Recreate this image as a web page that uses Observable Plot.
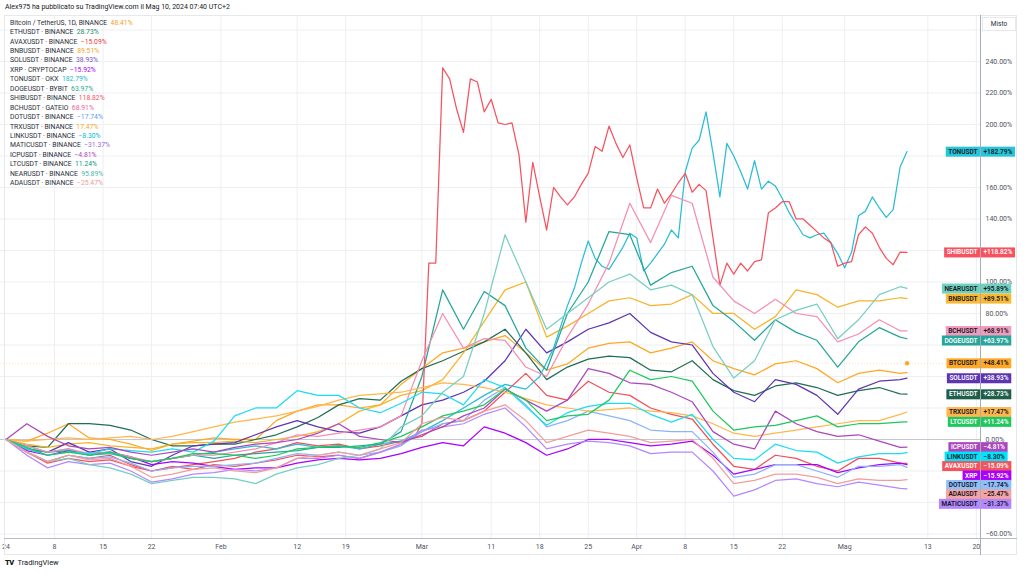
<!DOCTYPE html>
<html><head><meta charset="utf-8">
<script src="https://cdn.jsdelivr.net/npm/d3@7"></script>
<script src="https://cdn.jsdelivr.net/npm/@observablehq/plot@0.6"></script>
<style>
html,body{margin:0;padding:0;background:#fff;}
body{width:1024px;height:573px;position:relative;overflow:hidden;font-family:Roboto,"Open Sans",sans-serif;color:#131722;}
#hdr{position:absolute;left:5px;top:2px;font-size:7px;line-height:10px;color:#131722;white-space:nowrap;}
#chart{position:absolute;left:0;top:15px;}
#pane{position:absolute;left:4px;top:15px;width:1013px;height:540px;border:1px solid #e6e8ee;box-sizing:border-box;pointer-events:none;}
#vline{position:absolute;left:980px;top:15px;width:1px;height:540px;background:#a9acb5;}
#hline{position:absolute;left:4px;top:538px;width:1013px;height:1px;background:#b8bbc3;}
#legend{position:absolute;left:10px;top:18.6px;font-size:6.8px;line-height:9.45px;white-space:nowrap;}
#legend .n{color:#2a2e39;}
#misto{position:absolute;left:982px;top:17px;width:34px;height:14px;border:1px solid #e6e8ee;box-sizing:border-box;font-size:6.5px;line-height:12px;text-align:center;color:#2a2e39;background:#fff;}
#foot{position:absolute;left:5px;top:558px;font-size:7.5px;line-height:10px;color:#131722;}
#foot b{font-weight:900;letter-spacing:-0.5px;margin-right:2px;}
</style>
</head><body>
<div id="hdr">Alex975 ha pubblicato su TradingView.com il Mag 10, 2024 07:40 UTC+2</div>
<div id="chart"></div>
<div id="pane"></div>
<div id="vline"></div>
<div id="hline"></div>
<div id="misto">Misto</div>
<div id="legend"></div>
<div id="foot"><b>TV</b> TradingView</div>
<script>
// ---- data (percent change since 1 Jan 2024; day index = days since 1 Jan 2024) ----
const gridDays = [0,3,6,9,12,15,18,21,24,27,30,33,36,39,42,45,48,51,54,57,60,63,66,69,72,75,78,81,84,87,90,93,96,99,102,105,108,111,114,117,120,123,126,129,130];

const btc  = [0,-1,4,10,1,0,-3,-7,-3,-1,1,0,0,12,18,22,22,20,22,35,45,55,58,62,66,55,44,48,58,61,62,55,58,62,50,45,41,48,50,45,36,42,44,42,42.5];
const eth  = [0,-4,-5,10,10,9,6,0,-4,-4,-3,-3,0,3,8,14,22,26,25,37,45,50,56,62,70,55,38,46,51,53,52,44,43,50,38,31,28,34,36,33,28,31,33,29,28.73];
const avax = [0,-8,-14,-10,-12,-10,-16,-20,-18,-16,-14,-12,-8,-6,-2,-4,-3,-6,-4,-1,2,10,12,18,30,42,28,25,37,30,28,20,16,13,-3,-17,-19,-10,-12,-17,-20,-12,-12,-15,-15.09];
const bnb  = [0,-3,-5,-3,-2,-4,-5,-6,-3,-2,-2,-1,-2,0,2,5,10,18,22,28,31,38,55,75,95,100,65,72,80,88,90,85,86,92,80,80,70,78,95,92,84,88,88,90,89.51];
const sol  = [0,-6,-8,-2,-8,-6,-14,-17,-10,-4,-3,-2,3,8,12,8,5,4,8,15,22,25,30,37,50,70,55,62,70,74,80,68,62,60,42,30,24,38,35,28,16,32,37,38,38.93];
const xrp  = [0,-7,-10,-7,-9,-8,-11,-16,-14,-15,-17,-19,-18,-18,-15,-13,-12,-13,-12,-9,-5,-2,-4,8,4,-2,-10,-6,0,0,-2,-4,-3,-1,-10,-22,-19,-16,-16,-16,-21,-18,-16,-15,-15.92];
const doge = [0,-6,-8,-7,-10,-8,-12,-14,-12,-10,-12,-10,-9,-8,-7,-5,-5,-4,-3,5,40,95,70,94,85,58,44,80,100,132,130,98,106,110,85,75,63,76,68,63,46,62,71,65,63.97];
const bch  = [0,-4,-8,-6,-9,-8,-11,-14,-12,-10,-10,-8,-6,-2,3,2,4,6,8,15,50,80,58,64,63,46,40,65,86,112,150,125,155,150,103,88,80,89,80,78,62,67,76,69,68.91];
const dot  = [0,-8,-14,-10,-12,-11,-15,-20,-18,-17,-17,-16,-15,-12,-9,-10,-8,-10,-8,-4,5,10,12,25,33,22,8,12,18,15,12,6,5,5,-8,-24,-22,-16,-16,-20,-24,-17,-17,-16,-17.74];
const trx  = [0,-1,0,1,0,1,2,0,2,5,8,11,13,15,18,21,25,28,29,30,33,36,35,33,30,26,22,20,18,19,20,18,17,15,10,4,2,4,6,8,10,12,12,16,17.47];
const link = [0,-6,-10,-8,-9,-6,-7,-8,-6,-8,-1,15,20,20,31,28,28,20,17,23,30,29,22,38,33,21,9,17,21,23,23,16,11,16,0,-12,-13,-3,-7,-8,-15,-11,-9,-9,-8.3];
const matic= [0,-10,-18,-14,-16,-15,-20,-27,-25,-22,-21,-19,-20,-18,-12,-12,-10,-12,-8,-3,6,8,10,16,20,8,-6,-3,-1,-2,-4,-9,-8,-8,-20,-36,-32,-26,-25,-28,-30,-27,-29,-31,-31.37];
const icp  = [0,10,2,-4,-6,-5,-8,-10,-8,-6,-8,-5,-3,-2,0,4,10,2,0,-2,3,8,15,20,32,25,18,25,45,42,36,35,30,24,5,-3,-6,18,10,5,2,3,-1,-5,-4.81];
const ltc  = [0,-5,-10,-8,-10,-8,-12,-14,-12,-9,-9,-10,-12,-10,-6,-5,-4,-5,-2,2,8,15,18,22,32,25,12,15,16,25,44,38,40,37,18,6,8,9,12,15,8,10,10,11,11.24];
const near = [0,-8,-14,-12,-16,-18,-22,-28,-26,-24,-24,-25,-28,-22,-18,-16,-12,-10,-6,8,15,30,40,80,130,100,70,80,90,100,105,95,98,92,59,39,50,76,82,86,64,76,92,97,95.89];
const ada  = [0,-8,-14,-10,-13,-12,-17,-24,-22,-19,-18,-20,-21,-18,-12,-10,-8,-10,-6,-2,10,14,12,18,22,12,-2,2,6,4,2,-2,-1,0,-12,-28,-26,-22,-22,-24,-28,-25,-26,-26,-25.47];

const tonDays = [0,3,6,9,12,15,18,21,24,27,30,33,36,39,42,45,48,51,54,57,60,63,66,69,72,75,77,79,81,
  82,83,84,85,86,87,88,89,90,91,92,93,94,95,96,97,98,99,100,101,102,103,104,105,106,107,108,109,110,111,
  112,113,114,115,116,117,118,119,120,121,122,123,124,125,126,127,128,129,130];
const ton = [0,-4,-8,-6,-10,-9,-12,-14,-12,-10,-8,-6,-4,-6,-3,-5,-4,-6,-3,-1,5,12,20,28,35,32,40,58,85,
  96,112,126,115,110,108,115,122,131,128,107,112,118,124,133,128,170,185,190,208,182,154,188,180,170,159,177,159,164,161,
  153,144,137,130,128,130,131,125,118,109,119,142,145,154,147,141,146,173,182.79];

const shibDays = [0,3,6,9,12,15,18,21,24,27,30,33,36,39,42,45,48,51,54,57,59,60,61,62,
  63,64,65,66,67,68,69,70,71,72,73,74,75,76,77,78,79,80,81,82,83,84,85,86,87,88,89,90,91,92,
  93,94,95,96,97,98,99,100,101,102,103,104,105,106,107,108,109,110,111,112,113,114,115,116,117,118,119,120,
  121,122,123,124,125,126,127,128,129,130];
const shib = [0,-8,-15,-12,-14,-13,-17,-20,-17,-19,-16,-17,-15,-13,-10,-11,-10,-12,-8,-3,2,10,112,112,
  236,229,210,195,229,227,208,216,201,200,201,181,138,176,154,133,160,154,149,154,162,169,186,183,199,188,179,187,166,147,
  147,159,150,156,163,169,157,162,158,128,98,112,105,112,107,113,114,144,147,151,151,140,140,136,132,128,125,110,
  112,113,130,135,131,122,115,111,119,118.82];

const keys = ["BTC","ETH","AVAX","BNB","SOL","XRP","TON","DOGE","SHIB","BCH","DOT","TRX","LINK","MATIC","ICP","LTC","NEAR","ADA"];
const legendLabels = ["Bitcoin / TetherUS, 1D, BINANCE","ETHUSDT · BINANCE","AVAXUSDT · BINANCE","BNBUSDT · BINANCE","SOLUSDT · BINANCE","XRP · CRYPTOCAP","TONUSDT · OKX","DOGEUSDT · BYBIT","SHIBUSDT · BINANCE","BCHUSDT · GATEIO","DOTUSDT · BINANCE","TRXUSDT · BINANCE","LINKUSDT · BINANCE","MATICUSDT · BINANCE","ICPUSDT · BINANCE","LTCUSDT · BINANCE","NEARUSDT · BINANCE","ADAUSDT · BINANCE"];
const tagNames = ["BTCUSDT","ETHUSDT","AVAXUSDT","BNBUSDT","SOLUSDT","XRP","TONUSDT","DOGEUSDT","SHIBUSDT","BCHUSDT","DOTUSDT","TRXUSDT","LINKUSDT","MATICUSDT","ICPUSDT","LTCUSDT","NEARUSDT","ADAUSDT"];
const lastValues = [48.41,28.73,-15.09,89.51,38.93,-15.92,182.79,63.97,118.82,68.91,-17.74,17.47,-8.30,-31.37,-4.81,11.24,95.89,-25.47];
const lineColors = ["#ffa726","#1f6e55","#f0505a","#f6b42a","#5e35b1","#aa00ff","#2bbcd6","#26a69a","#f7525f","#f48fb1","#8ab4f8","#ffb74d","#1ddcf2","#b388ff","#ab47bc","#1ec85c","#78cfc1","#f29d9d"];
const boxColors  = ["#ffa726","#1e5e4a","#f2545b","#f9b934","#5e35b1","#aa00ff","#26c6da","#26a69a","#f7525f","#f29cbd","#90bff9","#ffb74d","#00e5ff","#b388ff","#ab47bc","#1fc75e","#6fd2c0","#f5a3a3"];
const tagTextColors = ["#131722","#ffffff","#ffffff","#131722","#ffffff","#ffffff","#131722","#ffffff","#ffffff","#131722","#131722","#131722","#131722","#131722","#ffffff","#ffffff","#131722","#131722"];
const legendValueColors = ["#f7a21b","#1f8a67","#f23645","#f5a623","#7e57c2","#aa00ff","#22b8cf","#22ab94","#f7525f","#f06292","#5b9cf6","#ffa726","#00bcd4","#9c6ade","#ab47bc","#089981","#4db6ac","#ef9a9a"];
const seriesArrays = {BTC:[gridDays,btc],ETH:[gridDays,eth],AVAX:[gridDays,avax],BNB:[gridDays,bnb],SOL:[gridDays,sol],XRP:[gridDays,xrp],
  TON:[tonDays,ton],DOGE:[gridDays,doge],SHIB:[shibDays,shib],BCH:[gridDays,bch],DOT:[gridDays,dot],TRX:[gridDays,trx],LINK:[gridDays,link],
  MATIC:[gridDays,matic],ICP:[gridDays,icp],LTC:[gridDays,ltc],NEAR:[gridDays,near],ADA:[gridDays,ada]};

const yTicks = [-60,-40,-20,0,20,40,60,80,100,120,140,160,180,200,220,240];
const yGrid = [-60,-40,-20,0,20,40,60,80,100,120,140,160,180,200,220,240,260];
const xTickDays = [0,7,14,21,31,42,49,60,70,77,84,91,98,105,112,121,133,140];
const xTickLabels = ["24","8","15","22","Feb","12","19","Mar","11","18","25","Apr","8","15","22","Mag","13","20"];
const btcLast = 48.41;

// ---- build ----
const DAY = 864e5, T0 = Date.UTC(2024,0,1);
const at = d => new Date(T0 + d*DAY);
const xDomain = [at(-0.8), at(140.6)];
const yDomain = [-62.86, 269.2];
const plotH = 543 - 20;
const pxPerUnit = plotH / (yDomain[1] - yDomain[0]);
const xEnd = xDomain[1];
const xTicks = xTickDays.map(at);
const xLabelMap = new Map(xTicks.map((d,i)=>[+d, xTickLabels[i]]));
const minus = v => v < 0 ? "\u2212" : "";
const fmtAxis = v => minus(v) + Math.abs(v).toFixed(2) + "%";
const fmtTag = v => (v < 0 ? "\u2212" : "+") + Math.abs(v).toFixed(2) + "%";

// legend
document.getElementById("legend").innerHTML = keys.map((k,i)=>
  `<div><span class="n">${legendLabels[i]}</span>&nbsp; <span style="color:${legendValueColors[i]}">${minus(lastValues[i])}${Math.abs(lastValues[i]).toFixed(2)}%</span></div>`).join("");

// price tags with collision dodge
const order = keys.map((k,i)=>i).sort((a,b)=>lastValues[b]-lastValues[a]);
let prev = Infinity;
const tags = order.map(i => { const ly = Math.min(lastValues[i], prev - 6.0); prev = ly;
  return {i, ly, name: tagNames[i], val: fmtTag(lastValues[i]), tc: tagTextColors[i], box: boxColors[i]}; });

// axis tick labels hidden behind a price tag are not drawn (as on the reference)
const visibleYTicks = yTicks.filter(t => tags.every(g => Math.abs(t - g.ly) * pxPerUnit >= 6.2));

const lineMarks = keys.map((k,i)=>{
  const [days, vals] = seriesArrays[k];
  const pts = days.map((d,j)=>({date: at(d), v: vals[j]}));
  return Plot.line(pts, {x:"date", y:"v", stroke: lineColors[i], strokeWidth:1.25});
});

const svg = Plot.plot({
  width: 1024, height: 543,
  marginLeft: 0, marginRight: 44, marginTop: 0, marginBottom: 20,
  x: {type:"utc", domain: xDomain},
  y: {domain: yDomain},
  color: {type:"identity"},
  style: {fontFamily:"Roboto, 'Open Sans', sans-serif", background:"transparent", overflow:"visible"},
  marks: [
    Plot.ruleY(yGrid, {stroke:"#edeff3", strokeWidth:1}),
    Plot.ruleX(xTicks.slice(1), {stroke:"#edeff3", strokeWidth:1}),
    Plot.ruleY([0], {stroke:"#c5c8cf", strokeWidth:1}),
    Plot.ruleY([btcLast], {stroke:"#ffa726", strokeOpacity:0.35, strokeDasharray:"1,2"}),
    ...lineMarks,
    Plot.dot([{date: at(130), v: btcLast}], {x:"date", y:"v", r:2.2, fill:"#ffa726"}),
    Plot.axisX({ticks: xTicks, tickFormat: d => xLabelMap.get(+d), tickSize:0, tickPadding:6, fontSize:7, color:"#50535e", label:null}),
    Plot.axisY({anchor:"right", ticks: visibleYTicks, tickFormat: fmtAxis, tickSize:0, tickPadding:5, fontSize:7, color:"#50535e", label:null}),
    Plot.text(tags, {x: () => xEnd, y:"ly", text:"name", textAnchor:"end", dx:-3, fill:"tc", fontSize:6.5, fontWeight:600, className:"tagname"}),
    Plot.text(tags, {x: () => xEnd, y:"ly", text:"val", textAnchor:"start", dx:3, fill:"tc", fontSize:6.5, fontWeight:600, className:"tagval"})
  ]
});
document.getElementById("chart").append(svg);

// boxes behind the price tags, sized from the rendered text
const NS = "http://www.w3.org/2000/svg";
function boxes(sel){
  d3.select(svg).selectAll(sel + " text").each(function(_, j){
    const t = tags[j]; if (!t) return;
    const b = this.getBBox();
    const cy = b.y + b.height/2;
    const r = document.createElementNS(NS, "rect");
    r.setAttribute("x", b.x - 2.5); r.setAttribute("width", b.width + 5);
    r.setAttribute("y", cy - 5); r.setAttribute("height", 10);
    r.setAttribute("fill", t.box);
    const tr = this.getAttribute("transform"); if (tr) r.setAttribute("transform", tr);
    this.parentNode.insertBefore(r, this);
  });
}
boxes("g.tagname");
boxes("g.tagval");
</script>
</body></html>
